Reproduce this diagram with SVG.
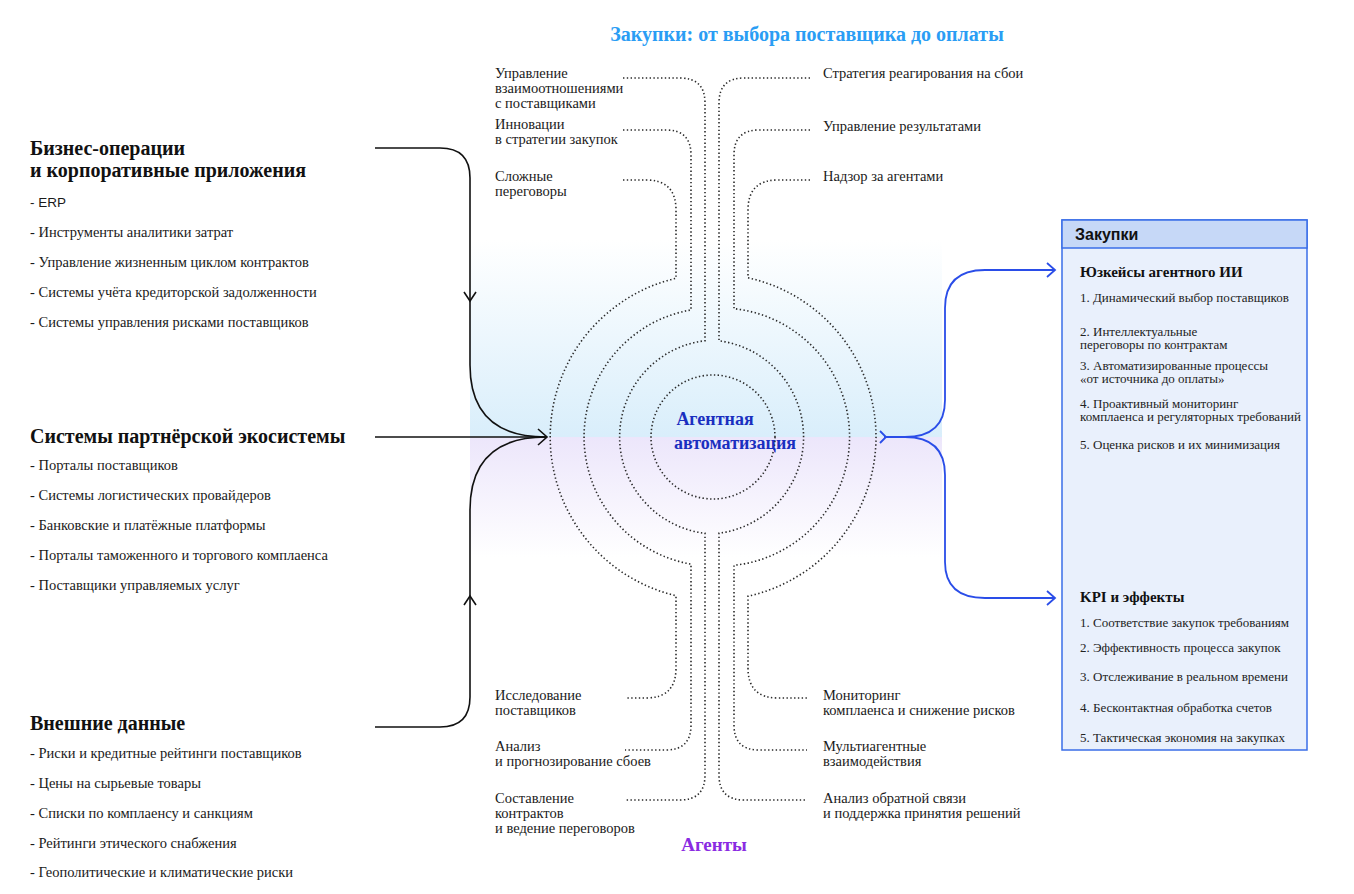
<svg xmlns="http://www.w3.org/2000/svg" width="1354" height="894" viewBox="0 0 1354 894">
<defs>
<linearGradient id="gUp" x1="0" y1="0" x2="0" y2="1"><stop offset="0" stop-color="#ffffff"/><stop offset="1" stop-color="#d9eefb"/></linearGradient>
<linearGradient id="gDn" x1="0" y1="0" x2="0" y2="1"><stop offset="0" stop-color="#ece6fb"/><stop offset="1" stop-color="#ffffff"/></linearGradient>
<style>
.t{font-family:"Liberation Serif",serif;font-size:14.5px;fill:#1a1a1a}
.h{font-family:"Liberation Serif",serif;font-size:20px;font-weight:bold;fill:#111}
.d{fill:none;stroke:#2a2a2a;stroke-width:1.6;stroke-dasharray:1.4 2.4}
.k{fill:none;stroke:#111;stroke-width:1.6}
.b{fill:none;stroke:#2a4de8;stroke-width:1.8}
.pt{font-family:"Liberation Serif",serif;font-size:13px;fill:#222}
.ph{font-family:"Liberation Serif",serif;font-size:15px;font-weight:bold;fill:#111}
</style>
</defs>
<rect width="1354" height="894" fill="#fff"/>
<rect x="470" y="240" width="472" height="197" fill="url(#gUp)"/>
<rect x="470" y="437" width="472" height="120" fill="url(#gDn)"/>
<text x="807" y="41" text-anchor="middle" font-family="Liberation Serif,serif" font-size="20" font-weight="bold" fill="#2a9df4">Закупки: от выбора поставщика до оплаты</text>
<g id="rings">
<circle class="d" cx="713" cy="437" r="62"/>
<path class="d" d="M623 78 H680 Q705 78 705 103 V340.7 A97 97 0 0 0 705 533.3 V775 Q705 800 680 800 H625"/>
<path class="d" d="M810 78 H744 Q719 78 719 103 V340.8 A97 97 0 0 1 719 533.2 V775 Q719 800 744 800 H807"/>
<path class="d" d="M623 130 H666 Q691 130 691 155 V309.9 A129 129 0 0 0 691 564.1 V725 Q691 750 666 750 H625"/>
<path class="d" d="M810 130 H759 Q734 130 734 155 V308.7 A129 129 0 0 1 734 565.3 V725 Q734 750 759 750 H807"/>
<path class="d" d="M623 180 H646 Q676 180 676 210 V278.3 A163 163 0 0 0 676 595.7 V668 Q676 698 646 698 H625"/>
<path class="d" d="M810 180 H778 Q748 180 748 210 V277.8 A163 163 0 0 1 748 596.2 V668 Q748 698 778 698 H807"/>
<text x="715" y="425" text-anchor="middle" font-family="Liberation Serif,serif" font-size="18" font-weight="bold" fill="#1a2fc0">Агентная</text>
<text x="735" y="449" text-anchor="middle" font-family="Liberation Serif,serif" font-size="18" font-weight="bold" fill="#1a2fc0">автоматизация</text>
<text x="714" y="851" text-anchor="middle" font-family="Liberation Serif,serif" font-size="19" font-weight="bold" fill="#8a2be2">Агенты</text>
</g>
<g id="agents">
<text class="t" x="495" y="78">Управление</text><text class="t" x="495" y="93">взаимоотношениями</text><text class="t" x="495" y="108">с поставщиками</text>
<text class="t" x="495" y="129">Инновации</text><text class="t" x="495" y="144">в стратегии закупок</text>
<text class="t" x="495" y="181">Сложные</text><text class="t" x="495" y="196">переговоры</text>
<text class="t" x="823" y="78">Стратегия реагирования на сбои</text>
<text class="t" x="823" y="131">Управление результатами</text>
<text class="t" x="823" y="181">Надзор за агентами</text>
<text class="t" x="495" y="700">Исследование</text><text class="t" x="495" y="715">поставщиков</text>
<text class="t" x="495" y="751">Анализ</text><text class="t" x="495" y="766">и прогнозирование сбоев</text>
<text class="t" x="495" y="803">Составление</text><text class="t" x="495" y="818">контрактов</text><text class="t" x="495" y="833">и ведение переговоров</text>
<text class="t" x="823" y="700">Мониторинг</text><text class="t" x="823" y="715">комплаенса и снижение рисков</text>
<text class="t" x="823" y="751">Мультиагентные</text><text class="t" x="823" y="766">взаимодействия</text>
<text class="t" x="823" y="803">Анализ обратной связи</text><text class="t" x="823" y="818">и поддержка принятия решений</text>
</g>
<g id="connectors">
<path class="k" d="M375 148 H440 Q470 148 470 178 V365 Q470 437 546 437"/>
<path class="k" d="M375 437 H546"/>
<path class="k" d="M375 727 H440 Q470 727 470 697 V510 Q470 437 546 437"/>
<path class="k" d="M538 429 L547 437 L538 445"/>
<path class="k" d="M464 292 L470 301 L476 292"/>
<path class="k" d="M464 605 L470 596 L476 605"/>
<path class="b" d="M884 437 H905 Q945 437 945 400 V308 Q945 270 985 270 H1055"/>
<path class="b" d="M905 437 Q945 437 945 475 V562 Q945 598 985 598 H1055"/>
<path class="b" d="M1047 263 L1055 270 L1047 277"/>
<path class="b" d="M1047 591 L1055 598 L1047 605"/>
<path class="b" d="M880 431 L886 437 L880 443"/>
</g>
<g id="sources">
<text class="h" x="30" y="155">Бизнес-операции</text><text class="h" x="30" y="177">и корпоративные приложения</text>
<text x="30" y="207" font-family="Liberation Sans,sans-serif" font-size="13.5" fill="#1a1a1a">- ERP</text>
<text class="t" x="30" y="237">- Инструменты аналитики затрат</text>
<text class="t" x="30" y="267">- Управление жизненным циклом контрактов</text>
<text class="t" x="30" y="297">- Системы учёта кредиторской задолженности</text>
<text class="t" x="30" y="327">- Системы управления рисками поставщиков</text>
<text class="h" x="30" y="443">Системы партнёрской экосистемы</text>
<text class="t" x="30" y="470">- Порталы поставщиков</text>
<text class="t" x="30" y="500">- Системы логистических провайдеров</text>
<text class="t" x="30" y="530">- Банковские и платёжные платформы</text>
<text class="t" x="30" y="560">- Порталы таможенного и торгового комплаенса</text>
<text class="t" x="30" y="590">- Поставщики управляемых услуг</text>
<text class="h" x="30" y="730">Внешние данные</text>
<text class="t" x="30" y="758">- Риски и кредитные рейтинги поставщиков</text>
<text class="t" x="30" y="788">- Цены на сырьевые товары</text>
<text class="t" x="30" y="818">- Списки по комплаенсу и санкциям</text>
<text class="t" x="30" y="848">- Рейтинги этического снабжения</text>
<text class="t" x="30" y="877">- Геополитические и климатические риски</text>
</g>
<g id="panel">
<rect x="1062" y="220" width="245" height="530" fill="#e9f0fc" stroke="#3a6ee8" stroke-width="1.5"/>
<rect x="1062" y="220" width="245" height="28" fill="#c6d8f7" stroke="#3a6ee8" stroke-width="1.5"/>
<text x="1075" y="240" font-family="Liberation Sans,sans-serif" font-size="16" font-weight="bold" fill="#111">Закупки</text>
<text class="ph" x="1080" y="277">Юзкейсы агентного ИИ</text>
<text class="pt" x="1080" y="302">1. Динамический выбор поставщиков</text>
<text class="pt" x="1080" y="336">2. Интеллектуальные</text><text class="pt" x="1080" y="349">переговоры по контрактам</text>
<text class="pt" x="1080" y="370">3. Автоматизированные процессы</text><text class="pt" x="1080" y="383">«от источника до оплаты»</text>
<text class="pt" x="1080" y="408">4. Проактивный мониторинг</text><text class="pt" x="1080" y="421">комплаенса и регуляторных требований</text>
<text class="pt" x="1080" y="449">5. Оценка рисков и их минимизация</text>
<text class="ph" x="1080" y="602">KPI и эффекты</text>
<text class="pt" x="1080" y="627">1. Соответствие закупок требованиям</text>
<text class="pt" x="1080" y="652">2. Эффективность процесса закупок</text>
<text class="pt" x="1080" y="681">3. Отслеживание в реальном времени</text>
<text class="pt" x="1080" y="712">4. Бесконтактная обработка счетов</text>
<text class="pt" x="1080" y="742">5. Тактическая экономия на закупках</text>
</g>
</svg>
